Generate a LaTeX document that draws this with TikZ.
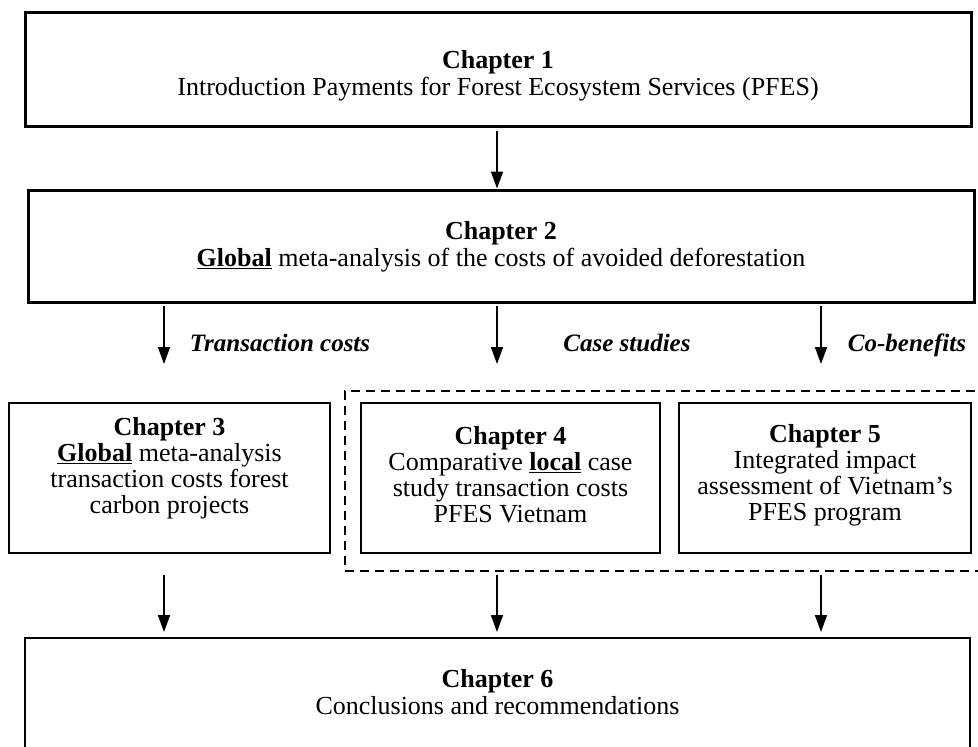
\documentclass[tikz,border=0pt]{standalone}
\usepackage{fontspec}
\setmainfont{Liberation Serif}
\usetikzlibrary{arrows.meta}
\begin{document}
\begin{tikzpicture}[x=1pt,y=-1pt,
  bigbox/.style={draw, line width=3pt, inner sep=0pt},
  box/.style={draw, line width=2.4pt, inner sep=0pt, minimum height=150pt},
  grp/.style={draw, dashed, dash pattern=on 9pt off 6pt, line width=2pt, inner sep=0pt},
  txt/.style={font=\fontsize{26}{27}\selectfont, align=center, inner sep=0pt},
  smalltxt/.style={font=\fontsize{26}{26}\selectfont, align=center, inner sep=0pt},
  lbl/.style={font=\fontsize{25}{26}\selectfont\bfseries\itshape, inner sep=0pt, anchor=base},
  arr/.style={line width=1.6pt, -{Triangle[length=17pt,width=12pt]}}
]
\useasboundingbox (0,0) rectangle (978,747);
% boxes
\node[bigbox, minimum width=946pt, minimum height=114pt] (b1) at (498,69) {};
\node[bigbox, minimum width=946pt, minimum height=112pt] (b2) at (501,246) {};
\node[box, minimum width=321pt] (b3) at (169.5,478) {};
\node[box, minimum width=299pt] (b4) at (510.5,478) {};
\node[box, minimum width=292pt] (b5) at (825,478) {};
\node[box, minimum width=945pt, minimum height=162pt] (b6) at (497.5,719) {};
\node[grp, minimum width=645pt, minimum height=180pt] (g) at (667.5,481) {};
% texts
\node[txt] (t1) at (498,76) {\textbf{Chapter 1}\\Introduction Payments for Forest Ecosystem Services (PFES)};
\node[txt] (t2) at (501,247) {\textbf{Chapter 2}\\\underline{\textbf{Global}} meta-analysis of the costs of avoided deforestation};
\node[smalltxt] (t3) at (169.5,468) {\textbf{Chapter 3}\\\underline{\textbf{Global}} meta-analysis\\transaction costs forest\\carbon projects};
\node[smalltxt] (t4) at (510.5,475) {\textbf{Chapter 4}\\Comparative \underline{\textbf{local}} case\\study transaction costs\\PFES Vietnam};
\node[smalltxt] (t5) at (825,475) {\textbf{Chapter 5}\\Integrated impact\\assessment of Vietnam’s\\PFES program};
\node[txt] (t6) at (497.5,692) {\textbf{Chapter 6}\\Conclusions and recommendations};
% labels
\node[lbl] (l1) at (280,351) {Transaction costs};
\node[lbl] (l2) at (627,351) {Case studies};
\node[lbl] (l3) at (907,351) {Co-benefits};
% arrow coordinates
\coordinate (a1s) at (497,131);
\coordinate (r2a) at (164,306); \coordinate (r2ae) at (164,364);
\coordinate (r2b) at (497,306); \coordinate (r2be) at (497,364);
\coordinate (r2c) at (821,306); \coordinate (r2ce) at (821,364);
\coordinate (r3a) at (164,575); \coordinate (r3ae) at (164,632);
\coordinate (r3b) at (497,575); \coordinate (r3be) at (497,632);
\coordinate (r3c) at (821,575); \coordinate (r3ce) at (821,632);
% arrows
\draw[arr] (a1s) -- (a1s |- b2.north);
\draw[arr] (r2a) -- (r2ae);
\draw[arr] (r2b) -- (r2be);
\draw[arr] (r2c) -- (r2ce);
\draw[arr] (r3a) -- (r3ae);
\draw[arr] (r3b) -- (r3be);
\draw[arr] (r3c) -- (r3ce);
\end{tikzpicture}
\end{document}
